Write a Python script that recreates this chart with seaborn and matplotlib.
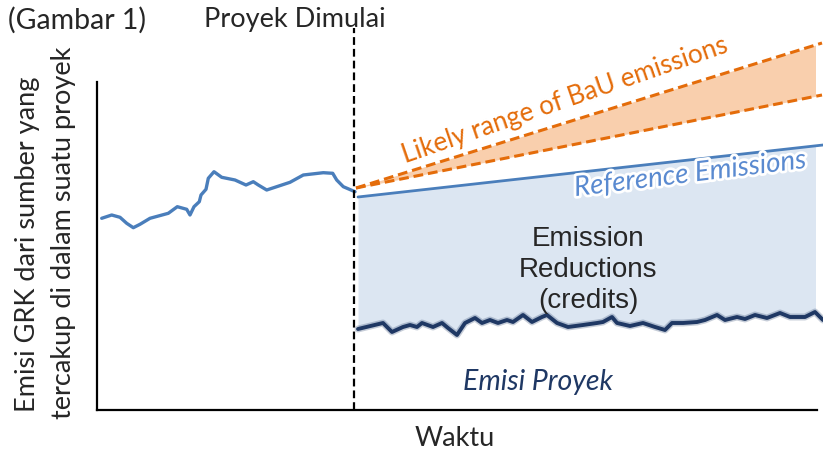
import matplotlib.pyplot as plt
import matplotlib.patheffects as pe
from matplotlib.patches import Rectangle
import seaborn as sns
import pandas as pd
import numpy as np

# Time axis (arbitrary units) and emission level (arbitrary units)
history_t = [4.7, 14.7, 23, 29.7, 36.3, 43, 53, 71.3, 80.3, 89.7, 93, 97, 102.3, 104, 109,
             111.3, 117, 124.7, 138, 149, 156.3, 161.3, 169.7, 179.7, 193, 206.3, 226.3,
             235.7, 239.7, 246.3, 258]
history_e = [191.7, 195, 192.7, 186.7, 182.3, 185.7, 191.7, 196.7, 203.3, 200.7, 195, 203.3,
             208.3, 215, 220.7, 231.7, 238.3, 232.7, 230, 225, 228.3, 225, 220, 223.3, 227.7,
             235, 237.3, 236.7, 230, 223.3, 218.3]

project_t = [261, 286, 295, 306, 313, 320, 325, 336, 345, 351, 360, 368, 378, 385, 393, 401,
             410, 416, 426, 435, 445, 450, 460, 471, 486, 500, 506, 515, 520, 533, 546, 558,
             568, 575, 586, 600, 608, 620, 628, 640, 648, 658, 670, 683, 693, 708, 718, 726]
project_e = [81, 87, 78, 83, 85, 83, 87, 83, 87, 82, 75, 87, 92, 87, 90, 87, 90, 88, 95, 88,
             93, 95, 87, 83, 85, 87, 88, 93, 87, 84, 87, 83, 80, 87, 87, 88, 90, 95, 90, 93,
             91, 95, 92, 97, 93, 93, 98, 90]

reference_t = [261, 726]
reference_e = [213, 265]

bau_t = [259, 725]
bau_low = [222, 315]
bau_high = [222, 367]

project_start = 257
fill_end = 718
axis_top = 328
axis_right = 720

sns.set_style("white")
plt.rcParams['font.family'] = ['Lato', 'DejaVu Sans']

fig = plt.figure(figsize=(8.23, 4.5), dpi=100)
ax = fig.add_axes([0, 0, 1, 1])
ax.set_xlim(-97, 726)
ax.set_ylim(-40, 410)

# axes drawn as simple L
for s in ["top", "right"]:
    ax.spines[s].set_visible(False)
ax.spines["left"].set_position(("data", 0))
ax.spines["bottom"].set_position(("data", 0))
ax.spines["left"].set_bounds(0, axis_top)
ax.spines["bottom"].set_bounds(0, axis_right)
for s in ["left", "bottom"]:
    ax.spines[s].set_color("black")
    ax.spines[s].set_linewidth(1.6)
ax.set_xticks([])
ax.set_yticks([])
ax.set_facecolor("white")

blue = "#4a7ebb"
navy = "#1f3864"
orange = "#e46c0a"

# emission reductions area
ref_on_proj = np.interp(project_t, reference_t, reference_e)
area = ax.fill_between(project_t, project_e, ref_on_proj, color="#dce6f2", lw=0)
area.set_clip_path(Rectangle((0, 0), fill_end, 400, transform=ax.transData))

# BaU range
bau = ax.fill_between(bau_t, bau_low, bau_high, color="#f9cfad", lw=0)
bau.set_clip_path(Rectangle((0, 0), fill_end, 400, transform=ax.transData))

sns.lineplot(x=history_t, y=history_e, ax=ax, color=blue, lw=2.4, sort=False)
sns.lineplot(x=reference_t, y=reference_e, ax=ax, color=blue, lw=2.0)
for yy in (bau_low, bau_high):
    sns.lineplot(x=bau_t, y=yy, ax=ax, color=orange, lw=2.2, linestyle=(0, (3.2, 1.6)))

# project emissions with soft edge
sns.lineplot(x=project_t, y=project_e, ax=ax, color=navy, lw=5.0, alpha=0.25, sort=False)
sns.lineplot(x=project_t, y=project_e, ax=ax, color=navy, lw=2.8, sort=False)

# project start marker
ax.plot([project_start, project_start], [0, 382], color="black", lw=1.6,
        linestyle=(0, (3.5, 1.8)))

# texts
ax.text(-89, 390, "(Gambar 1)", fontsize=20.5, ha="left", va="center")
ax.text(198, 390, "Proyek Dimulai", fontsize=19.5, ha="center", va="center")
ax.text(491, 140, "Emission\nReductions\n(credits)", fontsize=20, ha="center", va="center",
        family=["Liberation Sans"], linespacing=1.27)
ax.text(441, 28, "Emisi Proyek", fontsize=20.5, ha="center", va="center", style="italic",
        color=navy)
ax.text(358, -28, "Waktu", fontsize=19.5, ha="center", va="center")
ax.text(-70, 166, "Emisi GRK dari sumber yang", fontsize=19.5, ha="center", va="center",
        rotation=90)
ax.text(-34, 177, "tercakup di dalam suatu proyek", fontsize=19.5, ha="center", va="center",
        rotation=90)
ax.text(468, 310, "Likely range of BaU emissions", fontsize=18.8, ha="center", va="center",
        rotation=19, color=orange, rotation_mode="anchor")
ax.text(593, 236, "Reference Emissions", fontsize=20, ha="center", va="center",
        rotation=7, color="#5a8ad0", style="italic", rotation_mode="anchor",
        path_effects=[pe.withStroke(linewidth=4, foreground="white")])

fig.savefig("out.png", dpi=100)
